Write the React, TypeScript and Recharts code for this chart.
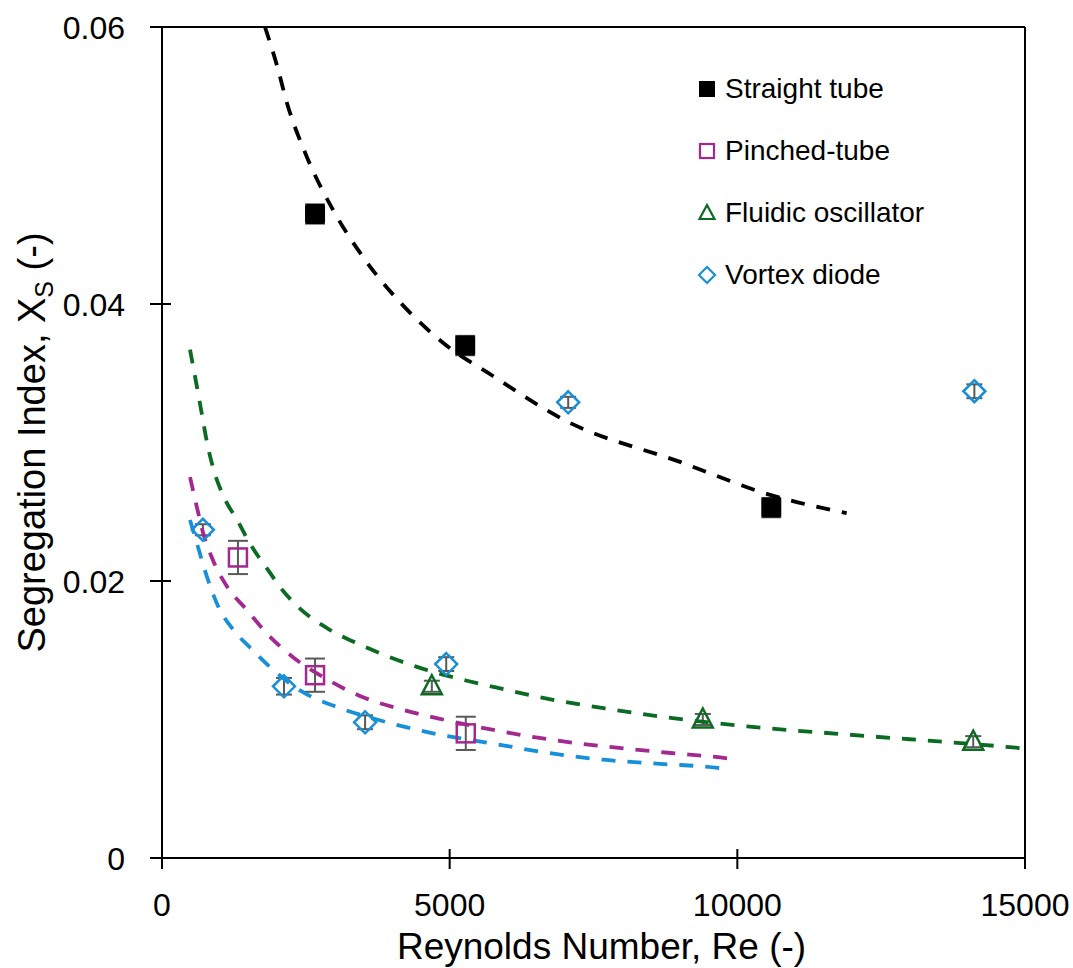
import React from 'react';
import { ComposedChart, XAxis, YAxis, Scatter, Line, ErrorBar, ReferenceLine, Legend, Label } from 'recharts';

const FONT = '"Liberation Sans", Arial, sans-serif';
const BLACK = '#000000';
const MAGENTA = '#A3288F';
const GREEN = '#0B6B22';
const BLUE = '#1790D9';
const GREY = '#595959';

const xTicks = [0, 5000, 10000, 15000];
const xTickLabels = ['0', '5000', '10000', '15000'];
const yTicks = [0, 0.02, 0.04, 0.06];
const yTickLabels = ['0', '0.02', '0.04', '0.06'];
const legendLabels = ['Straight tube', 'Pinched-tube', 'Fluidic oscillator', 'Vortex diode'];

// measured points (Re, Xs, error)
const straightTube = [
  { x: 2660, y: 0.0465, err: 0.0007 },
  { x: 5270, y: 0.0370, err: 0.0007 },
  { x: 10590, y: 0.0253, err: 0.0007 },
];
const pinchedTube = [
  { x: 1320, y: 0.0217, err: 0.0012 },
  { x: 2660, y: 0.0132, err: 0.0012 },
  { x: 5280, y: 0.0090, err: 0.0012 },
];
const fluidicOscillator = [
  { x: 4690, y: 0.0124, err: 0.0004 },
  { x: 9400, y: 0.0100, err: 0.0004 },
  { x: 14100, y: 0.0084, err: 0.0004 },
];
const vortexDiode = [
  { x: 710, y: 0.0237, err: 0.0004 },
  { x: 2120, y: 0.0124, err: 0.0006 },
  { x: 3530, y: 0.0098, err: 0.0005 },
  { x: 4940, y: 0.0140, err: 0.0005 },
  { x: 7060, y: 0.0329, err: 0.0004 },
  { x: 14120, y: 0.0337, err: 0.0005 },
];

// trendlines
const straightTrend = [
  { x: 1790, y: 0.0600 }, { x: 2000, y: 0.0572 }, { x: 2173, y: 0.0545 },
  { x: 2500, y: 0.0508 }, { x: 2972, y: 0.0468 }, { x: 3563, y: 0.0430 },
  { x: 4189, y: 0.0399 }, { x: 4884, y: 0.0372 }, { x: 5753, y: 0.0348 },
  { x: 7004, y: 0.0316 }, { x: 9003, y: 0.0286 }, { x: 10584, y: 0.0262 },
  { x: 11900, y: 0.0249 },
];
const pinchedTrend = [
  { x: 487, y: 0.0275 }, { x: 608, y: 0.0253 }, { x: 713, y: 0.0235 },
  { x: 886, y: 0.0215 }, { x: 1130, y: 0.0196 }, { x: 1477, y: 0.0179 },
  { x: 1825, y: 0.0162 }, { x: 2277, y: 0.0145 }, { x: 2868, y: 0.0129 },
  { x: 3441, y: 0.0117 }, { x: 4189, y: 0.0107 }, { x: 4884, y: 0.0100 },
  { x: 5822, y: 0.0092 }, { x: 6830, y: 0.0085 }, { x: 7821, y: 0.0080 },
  { x: 8794, y: 0.0076 }, { x: 9820, y: 0.0072 }, { x: 10000, y: 0.0071 },
];
const fluidicTrend = [
  { x: 487, y: 0.0367 }, { x: 608, y: 0.0340 }, { x: 695, y: 0.0320 },
  { x: 782, y: 0.0300 }, { x: 886, y: 0.0282 }, { x: 1060, y: 0.0262 },
  { x: 1321, y: 0.0243 }, { x: 1529, y: 0.0227 }, { x: 1842, y: 0.0208 },
  { x: 2103, y: 0.0193 }, { x: 2398, y: 0.0180 }, { x: 2868, y: 0.0166 },
  { x: 3389, y: 0.0155 }, { x: 3841, y: 0.0147 }, { x: 4432, y: 0.0138 },
  { x: 5301, y: 0.0128 }, { x: 5822, y: 0.0123 }, { x: 6691, y: 0.0115 },
  { x: 7699, y: 0.0108 }, { x: 8690, y: 0.0102 }, { x: 9698, y: 0.0097 },
  { x: 10167, y: 0.0095 }, { x: 11957, y: 0.0089 }, { x: 14738, y: 0.0080 },
  { x: 15000, y: 0.0079 },
];
const vortexTrend = [
  { x: 487, y: 0.0244 }, { x: 608, y: 0.0227 }, { x: 782, y: 0.0203 },
  { x: 973, y: 0.0182 }, { x: 1234, y: 0.0165 }, { x: 1529, y: 0.0152 },
  { x: 1929, y: 0.0136 }, { x: 2398, y: 0.0121 }, { x: 3042, y: 0.0109 },
  { x: 3737, y: 0.0100 }, { x: 4710, y: 0.0090 }, { x: 5700, y: 0.0083 },
  { x: 6691, y: 0.0076 }, { x: 7664, y: 0.0071 }, { x: 8655, y: 0.0068 },
  { x: 9663, y: 0.0065 }, { x: 9840, y: 0.0064 },
];

const FilledSquare = (p: any) => (
  <rect x={p.cx - 10} y={p.cy - 10} width={20} height={20} rx={2} fill={BLACK} />
);
const OpenSquare = (p: any) => (
  <rect x={p.cx - 9} y={p.cy - 9} width={18} height={18} fill="none" stroke={MAGENTA} strokeWidth={2.5} />
);
const OpenTriangle = (p: any) => (
  <path d={`M${p.cx},${p.cy - 11} L${p.cx + 10},${p.cy + 8} L${p.cx - 10},${p.cy + 8} Z`} fill="none" stroke={GREEN} strokeWidth={2.5} strokeLinejoin="miter" />
);
const OpenDiamond = (p: any) => (
  <path d={`M${p.cx},${p.cy - 11} L${p.cx + 11},${p.cy} L${p.cx},${p.cy + 11} L${p.cx - 11},${p.cy} Z`} fill="none" stroke={BLUE} strokeWidth={2.5} />
);

const YTick = (props: any) => {
  const { x, y, payload } = props;
  const i = yTicks.indexOf(payload.value);
  return (
    <g>
      <line x1={x - 12} x2={x + 9} y1={y} y2={y} stroke={BLACK} strokeWidth={2} />
      <text x={x - 37} y={y + 11.5} textAnchor="end" fontSize={32} fontFamily={FONT} fill={BLACK}>
        {i >= 0 ? yTickLabels[i] : String(payload.value)}
      </text>
    </g>
  );
};

const XTick = (props: any) => {
  const { x, y, payload } = props;
  const i = xTicks.indexOf(payload.value);
  return (
    <g>
      <line x1={x} x2={x} y1={y - 9} y2={y + 11} stroke={BLACK} strokeWidth={2} />
      <text x={x} y={y + 58} textAnchor="middle" fontSize={32} fontFamily={FONT} fill={BLACK}>
        {i >= 0 ? xTickLabels[i] : String(payload.value)}
      </text>
    </g>
  );
};

const XTitle = (props: any) => {
  const vb = props.viewBox;
  return (
    <text x={vb.x + vb.width / 2 + 8} y={vb.y + 101} textAnchor="middle" fontSize={37} fontFamily={FONT} fill={BLACK}>
      Reynolds Number, Re (-)
    </text>
  );
};

const YTitle = (props: any) => {
  const vb = props.viewBox;
  const cx = 45;
  const cy = vb.y + vb.height / 2;
  return (
    <text x={cx} y={cy} transform={`rotate(-90, ${cx}, ${cy})`} textAnchor="middle" fontSize={38} fontFamily={FONT} fill={BLACK}>
      <tspan>Segregation Index, X</tspan>
      <tspan fontSize={25} dy={8}>S</tspan>
      <tspan dy={-8}> (-)</tspan>
    </text>
  );
};

const legendIcons = [
  (cx: number, cy: number) => <rect x={cx - 8} y={cy - 8} width={16} height={16} fill={BLACK} />,
  (cx: number, cy: number) => <rect x={cx - 7} y={cy - 7} width={14} height={14} fill="none" stroke={MAGENTA} strokeWidth={2.2} />,
  (cx: number, cy: number) => <path d={`M${cx},${cy - 8} L${cx + 7.5},${cy + 6} L${cx - 7.5},${cy + 6} Z`} fill="none" stroke={GREEN} strokeWidth={2.2} />,
  (cx: number, cy: number) => <path d={`M${cx},${cy - 8} L${cx + 8},${cy} L${cx},${cy + 8} L${cx - 8},${cy} Z`} fill="none" stroke={BLUE} strokeWidth={2.2} />,
];

const LegendBox = () => (
  <svg width={330} height={260} style={{ display: 'block' }}>
    {legendLabels.map((label, i) => {
      const cy = 28 + i * 62;
      return (
        <g key={label}>
          {legendIcons[i](17, cy)}
          <text x={35} y={cy + 9} fontSize={28} fontFamily={FONT} fill={BLACK}>{label}</text>
        </g>
      );
    })}
  </svg>
);

export default function App() {
  return (
    <div style={{ position: 'absolute', left: 0, top: 0, width: 1073, height: 968, background: '#fff' }}>
      <ComposedChart width={1073} height={968} margin={{ top: 27, right: 48, left: 0, bottom: 0 }}>
        <XAxis
          type="number"
          dataKey="x"
          domain={[0, 15000]}
          ticks={xTicks}
          allowDataOverflow
          height={110}
          tickSize={0}
          tickMargin={0}
          tickLine={false}
          axisLine={{ stroke: BLACK, strokeWidth: 2 }}
          tick={<XTick />}
        >
          <Label content={<XTitle />} />
        </XAxis>
        <YAxis
          type="number"
          dataKey="y"
          domain={[0, 0.06]}
          ticks={yTicks}
          allowDataOverflow
          width={162}
          tickSize={0}
          tickMargin={0}
          tickLine={false}
          axisLine={{ stroke: BLACK, strokeWidth: 2 }}
          tick={<YTick />}
        >
          <Label content={<YTitle />} />
        </YAxis>
        <ReferenceLine y={0.06} stroke={BLACK} strokeWidth={2} />
        <ReferenceLine x={15000} stroke={BLACK} strokeWidth={2} />

        <Scatter name="Straight tube" data={straightTube} shape={<FilledSquare />} isAnimationActive={false}>
          <ErrorBar dataKey="err" direction="y" width={10} stroke={GREY} strokeWidth={2} />
        </Scatter>
        <Scatter name="Pinched-tube" data={pinchedTube} shape={<OpenSquare />} isAnimationActive={false}>
          <ErrorBar dataKey="err" direction="y" width={10} stroke={GREY} strokeWidth={2} />
        </Scatter>
        <Scatter name="Fluidic oscillator" data={fluidicOscillator} shape={<OpenTriangle />} isAnimationActive={false}>
          <ErrorBar dataKey="err" direction="y" width={8} stroke={GREY} strokeWidth={2} />
        </Scatter>
        <Scatter name="Vortex diode" data={vortexDiode} shape={<OpenDiamond />} isAnimationActive={false}>
          <ErrorBar dataKey="err" direction="y" width={8} stroke={GREY} strokeWidth={2} />
        </Scatter>

        <Line data={straightTrend} dataKey="y" type="monotone" stroke={BLACK} strokeWidth={3.8} strokeDasharray="14 12" dot={false} activeDot={false} legendType="none" isAnimationActive={false} />
        <Line data={pinchedTrend} dataKey="y" type="monotone" stroke={MAGENTA} strokeWidth={3.8} strokeDasharray="14 12" dot={false} activeDot={false} legendType="none" isAnimationActive={false} />
        <Line data={fluidicTrend} dataKey="y" type="monotone" stroke={GREEN} strokeWidth={3.8} strokeDasharray="14 12" dot={false} activeDot={false} legendType="none" isAnimationActive={false} />
        <Line data={vortexTrend} dataKey="y" type="monotone" stroke={BLUE} strokeWidth={3.8} strokeDasharray="14 12" dot={false} activeDot={false} legendType="none" isAnimationActive={false} />

        <Legend
          layout="vertical"
          align="center"
          verticalAlign="middle"
          content={<LegendBox />}
          wrapperStyle={{ position: 'absolute', left: 690, top: 61, width: 330, height: 260 }}
        />
      </ComposedChart>
    </div>
  );
}
